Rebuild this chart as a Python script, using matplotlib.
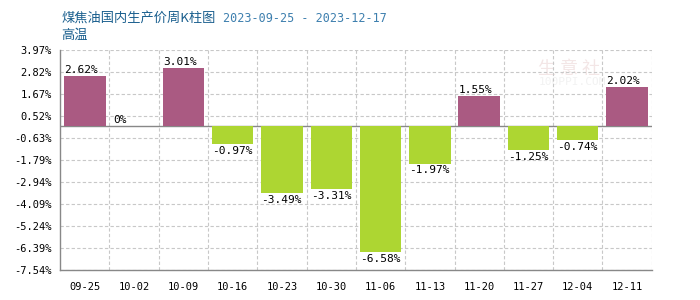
import matplotlib
matplotlib.use('Agg')
import matplotlib.pyplot as plt
import numpy as np

# --- data ---
weeks = ['09-25', '10-02', '10-09', '10-16', '10-23', '10-30',
         '11-06', '11-13', '11-20', '11-27', '12-04', '12-11']
changes = [2.62, 0, 3.01, -0.97, -3.49, -3.31, -6.58, -1.97, 1.55, -1.25, -0.74, 2.02]
yticks = [3.97, 2.82, 1.67, 0.52, -0.63, -1.79, -2.94, -4.09, -5.24, -6.39, -7.54]

pos_color = '#AA5A82'
neg_color = '#ADD632'
mono = ['DejaVu Sans Mono']
cjk = ['Noto Sans CJK SC', 'DejaVu Sans']

fig = plt.figure(figsize=(7, 3), dpi=100)
ax = fig.add_axes([0.086, 0.1, 0.845, 0.733])

x = np.arange(len(weeks))
colors = [pos_color if v >= 0 else neg_color for v in changes]
bw = 0.84
ax.bar(x, changes, width=bw, color=colors, zorder=3)

for xi, v in zip(x, changes):
    label = f'{v:.2f}%' if v != 0 else '0%'
    if v >= 0:
        ax.text(xi - bw / 2, v + 0.05, label, ha='left', va='bottom',
                fontsize=8, family=mono, zorder=4)
    else:
        ax.text(xi - bw / 2, v - 0.1, label, ha='left', va='top',
                fontsize=8, family=mono, zorder=4)

ax.set_xlim(-0.5, len(weeks) - 0.5)
ax.set_ylim(yticks[-1], yticks[0])
ax.set_yticks(yticks)
ax.set_yticklabels([f'{t:.2f}%' for t in yticks], family=mono, fontsize=7.5)
ax.set_xticks(x)
ax.set_xticklabels(weeks, family=mono, fontsize=7.5)
ax.tick_params(length=0, pad=9, axis='x')
ax.tick_params(length=0, pad=6, axis='y')

# grid: horizontal at ticks, vertical at category boundaries
for t in yticks:
    ax.axhline(t, color='#c8c8c8', lw=0.8, ls=(0, (3, 2)), zorder=1)
for b in np.arange(0.5, len(weeks), 1):
    ax.axvline(b, color='#c8c8c8', lw=0.8, ls=(0, (3, 2)), zorder=1)
ax.axhline(0, color='#888888', lw=1, zorder=2)

for s in ['top', 'right']:
    ax.spines[s].set_visible(False)
for s in ['left', 'bottom']:
    ax.spines[s].set_color('#888888')
    ax.spines[s].set_linewidth(1)

# watermark
ax.text(9.2, 3.0, '生 意 社', fontsize=13, color='#f3e6e6', family=cjk,
        ha='left', va='center', zorder=0)
ax.text(9.2, 2.3, '100PPI.COM', fontsize=8, color='#f2f2f2', family=mono,
        ha='left', va='center', zorder=0)

# titles
fig.text(0.088, 0.94, '煤焦油国内生产价周K柱图', fontsize=9.5, color='#1a5f8e',
         family=cjk, ha='left', va='center')
fig.text(0.318, 0.94, '2023-09-25 - 2023-12-17', fontsize=8.5, color='#3d7fae',
         family=mono, ha='left', va='center')
fig.text(0.088, 0.883, '高温', fontsize=9.5, color='#1a5f8e',
         family=cjk, ha='left', va='center')

plt.savefig('out.png', dpi=100)
plt.close()
